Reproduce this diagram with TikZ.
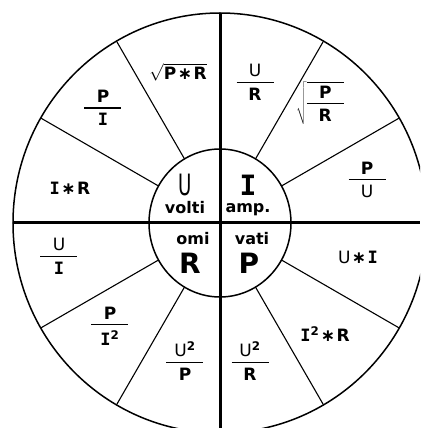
\documentclass[tikz,border=0pt]{standalone}
\usepackage{fontspec}
\usepackage{graphicx}
\setmainfont{DejaVu Sans}
\newfontfamily\slabfont{DejaVu Sans Mono}
\newcommand\Ibar{{\slabfont\bfseries I}}
\newcommand\Uthin{{\mdseries U}}
\newcommand\mul{\kern1.5pt∗\kern1.5pt}
\newcommand\frbox[2]{\vcenter{\hbox to 37pt{\hss#1\hss}\kern5pt\hrule height 1.2pt\kern5pt\hbox to 37pt{\hss#2\hss}}}
\newcommand\fr[2]{$\frbox{#1}{#2}$}
\usetikzlibrary{positioning}

\begin{document}
\begin{tikzpicture}[x=1pt, y=1pt,
   big/.style={font=\fontsize{28}{28}\selectfont\bfseries},
   unit/.style={font=\fontsize{16}{16}\selectfont\bfseries},
   formula/.style={font=\fontsize{17}{18}\selectfont\bfseries}]
   \clip (-220,-205) rectangle (200,223);
   % Rings
   \draw[line width=1.5pt] (0,0) ellipse [x radius=207, y radius=210];
   \draw[line width=1.5pt] (0,0) ellipse [x radius=71, y radius=74];
   % Spokes between the rings
   \foreach \a in {30,60,120,150,210,240,300,330}
      \draw[line width=1.1pt] ({71*cos(\a)},{74*sin(\a)}) -- ({207*cos(\a)},{210*sin(\a)});
   % Cross
   \draw[line width=3pt] (-207,0) -- (200,0);
   \draw[line width=3pt] (0,210) -- (0,-205);
   % Centre: quantities and units
   \node[big] (volt) at (-35,38) {\scalebox{0.65}[1.05]{\mdseries U}};
   \node[unit] (volti) at (-35,15) {volti};
   \node[big] (amp) at (28,38) {\Ibar};
   \node[unit] (ampu) at (28,13) {amp.};
   \node[unit] (omi) at (-27,-16) {omi};
   \node[big] (ohm) at (-30,-40) {R};
   \node[unit] (vati) at (32,-16) {vati};
   \node[big] (watt) at (29,-40) {P};
   % Outer ring: formulas
   \node[formula] (u1) at (-42,151) {$\sqrt{\mbox{P\mul R}}$};
   \node[formula] (u2) at (-117,115) {\fr{P}{\Ibar}};
   \node[formula] (u3) at (-150,35) {\Ibar\mul R};
   \node[formula] (r1) at (-161,-33) {\fr{\Uthin}{\Ibar}};
   \node[formula] (r2) at (-110,-103) {\fr{P}{\Ibar\textsuperscript{2}}};
   \node[formula] (r3) at (-35,-138) {\fr{\Uthin\textsuperscript{2}}{P}};
   \node[formula] (p1) at (30,-138) {\fr{\Uthin\textsuperscript{2}}{R}};
   \node[formula] (p2) at (105,-111) {\Ibar\textsuperscript{2}\mul R};
   \node[formula] (p3) at (138,-34) {\Uthin\mul\Ibar};
   \node[formula] (i1) at (147,43) {\fr{P}{\Uthin}};
   \node[formula] (i2) at (100,120) {$\sqrt{\frbox{P}{R}}$};
   \node[formula] (i3) at (35,141) {\fr{\Uthin}{R}};
\end{tikzpicture}
\end{document}
